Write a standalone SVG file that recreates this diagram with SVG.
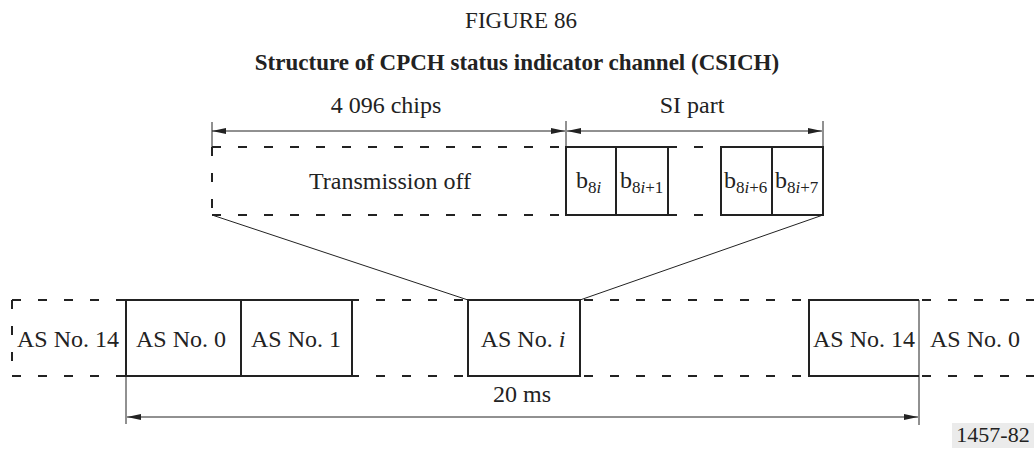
<svg xmlns="http://www.w3.org/2000/svg" width="1034" height="461" viewBox="0 0 1034 461">
<defs>
<marker id="arr" viewBox="0 0 14 6" refX="14" refY="3" markerWidth="14" markerHeight="6" markerUnits="userSpaceOnUse" orient="auto-start-reverse">
<path d="M0,0 L14,3 L0,6 Z" fill="#222"/>
</marker>
<style>
text{font-family:"Liberation Serif","Times New Roman",serif;fill:#222;}
.lbl{font-size:24px;}
.sub{font-size:17px;}
.box{fill:none;stroke:#222;stroke-width:2;}
.dash{fill:none;stroke:#222;stroke-width:2;stroke-dasharray:9 17;}
.thin{fill:none;stroke:#222;stroke-width:1;}
.dim{fill:none;stroke:#222;stroke-width:1;}
</style>
</defs>
<rect width="1034" height="461" fill="#fff"/>
<g id="title">
<text x="521" y="28" font-size="23" text-anchor="middle">FIGURE 86</text>
<text x="517" y="70" font-size="23" font-weight="bold" text-anchor="middle">Structure of CPCH status indicator channel (CSICH)</text>
</g>
<g id="connectors">
<line class="thin" x1="212" y1="122" x2="212" y2="147"/>
<line class="thin" x1="566" y1="121" x2="566" y2="147"/>
<line class="thin" x1="823" y1="121" x2="823" y2="147"/>
<line class="dim" x1="212" y1="131" x2="565" y2="131" marker-start="url(#arr)" marker-end="url(#arr)"/>
<line class="dim" x1="567" y1="131" x2="822" y2="131" marker-start="url(#arr)" marker-end="url(#arr)"/>
<line class="thin" x1="212" y1="215" x2="468" y2="300"/>
<line class="thin" x1="823" y1="215" x2="580" y2="300"/>
<line class="thin" x1="126" y1="376" x2="126" y2="424"/>
<line class="thin" x1="919" y1="300" x2="919" y2="425"/>
<line class="dim" x1="127" y1="417" x2="918" y2="417" marker-start="url(#arr)" marker-end="url(#arr)"/>
</g>
<g id="dim-labels">
<text class="lbl" x="386" y="113" text-anchor="middle">4 096 chips</text>
<text class="lbl" x="692" y="113" text-anchor="middle">SI part</text>
<text class="lbl" x="522" y="402" text-anchor="middle">20 ms</text>
</g>
<g id="si-frame">
<path class="dash" d="M212,147 H566 M212,215 H566 M212,147 V215 M668,147 H721 M668,215 H721"/>
</g>
<g id="transmission-off">
<text class="lbl" x="390" y="189" text-anchor="middle">Transmission off</text>
</g>
<g id="b8i">
<rect class="box" x="566" y="147" width="50" height="68"/>
<text class="lbl" x="576" y="188">b<tspan class="sub" dy="5">8<tspan font-style="italic">i</tspan></tspan></text>
</g>
<g id="b8i1">
<rect class="box" x="616" y="147" width="52" height="68"/>
<text class="lbl" x="620" y="188">b<tspan class="sub" dy="5">8<tspan font-style="italic">i</tspan>+1</tspan></text>
</g>
<g id="b8i6">
<rect class="box" x="721" y="147" width="51" height="68"/>
<text class="lbl" x="724" y="188">b<tspan class="sub" dy="5">8<tspan font-style="italic">i</tspan>+6</tspan></text>
</g>
<g id="b8i7">
<rect class="box" x="772" y="147" width="51" height="68"/>
<text class="lbl" x="775" y="188">b<tspan class="sub" dy="5">8<tspan font-style="italic">i</tspan>+7</tspan></text>
</g>
<g id="main-row">
<path class="dash" d="M12,300 H1034 M12,376 H1034 M12,300 V376"/>
</g>
<g id="as14-left">
<text class="lbl" x="68" y="347" text-anchor="middle">AS No. 14</text>
</g>
<g id="as0">
<rect class="box" x="126" y="300" width="115" height="76"/>
<text class="lbl" x="181" y="347" text-anchor="middle">AS No. 0</text>
</g>
<g id="as1">
<rect class="box" x="241" y="300" width="111" height="76"/>
<text class="lbl" x="296" y="347" text-anchor="middle">AS No. 1</text>
</g>
<g id="asi">
<rect class="box" x="468" y="300" width="112" height="76"/>
<text class="lbl" x="523" y="347" text-anchor="middle">AS No. <tspan font-style="italic">i</tspan></text>
</g>
<g id="as14">
<path class="box" d="M919,300 H809 V376 H919"/>
<text class="lbl" x="864" y="347" text-anchor="middle">AS No. 14</text>
</g>
<g id="as0-right">
<text class="lbl" x="975" y="347" text-anchor="middle">AS No. 0</text>
</g>
<g id="figure-id">
<rect x="952" y="423" width="82" height="25" fill="#ebebeb"/>
<text x="993" y="442" font-size="22" text-anchor="middle">1457-82</text>
</g>
</svg>
